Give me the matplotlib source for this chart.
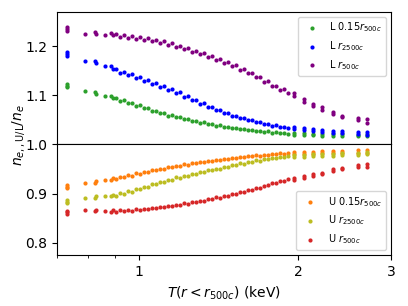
import matplotlib
matplotlib.use("Agg")
import matplotlib.pyplot as plt
from matplotlib.ticker import FixedLocator, FixedFormatter, LogLocator, NullFormatter

# temperature T(r < r500c) in keV, shared by every series
T = [0.731, 0.731, 0.731, 0.792, 0.824, 0.831, 0.864, 0.887, 0.894,
     0.904, 0.920, 0.936, 0.953, 0.969, 0.987, 1.003, 1.022, 1.040, 1.058,
     1.076, 1.095, 1.114, 1.134, 1.154, 1.175, 1.195, 1.216, 1.237, 1.259,
     1.281, 1.303, 1.326, 1.349, 1.373, 1.397, 1.422, 1.447, 1.473, 1.498,
     1.524, 1.551, 1.579, 1.606, 1.634, 1.663, 1.692, 1.722, 1.752, 1.783,
     1.815, 1.847, 1.879, 1.912,
     1.968, 1.968, 2.050, 2.050, 2.135, 2.135, 2.220, 2.220, 2.336, 2.336,
     2.422, 2.422, 2.605, 2.605, 2.701, 2.701]

# lower ratios (L)
L_015 = [1.123, 1.120, 1.117, 1.108, 1.107, 1.103, 1.098, 1.098, 1.094,
         1.095, 1.089, 1.090, 1.084, 1.085, 1.079, 1.080, 1.074, 1.074, 1.068,
         1.069, 1.064, 1.064, 1.059, 1.060, 1.055, 1.056, 1.051, 1.052, 1.048,
         1.048, 1.044, 1.045, 1.041, 1.042, 1.038, 1.039, 1.036, 1.036, 1.033,
         1.034, 1.031, 1.032, 1.029, 1.030, 1.027, 1.028, 1.026, 1.027, 1.024,
         1.025, 1.023, 1.024, 1.022,
         1.024, 1.020, 1.023, 1.019, 1.022, 1.019, 1.022, 1.018, 1.021, 1.018,
         1.021, 1.018, 1.020, 1.017, 1.021, 1.017]
L_2500 = [1.189, 1.185, 1.181, 1.170, 1.170, 1.165, 1.159, 1.160, 1.154,
          1.153, 1.146, 1.148, 1.141, 1.143, 1.136, 1.137, 1.130, 1.132, 1.124,
          1.126, 1.118, 1.119, 1.111, 1.113, 1.104, 1.106, 1.097, 1.098, 1.090,
          1.091, 1.083, 1.084, 1.077, 1.077, 1.070, 1.071, 1.064, 1.065, 1.059,
          1.059, 1.054, 1.054, 1.049, 1.050, 1.045, 1.046, 1.041, 1.042, 1.038,
          1.039, 1.035, 1.036, 1.033,
          1.036, 1.031, 1.034, 1.029, 1.031, 1.027, 1.030, 1.026, 1.027, 1.024,
          1.027, 1.023, 1.025, 1.021, 1.026, 1.020]
L_500 = [1.240, 1.236, 1.232, 1.225, 1.230, 1.226, 1.222, 1.228, 1.222,
         1.225, 1.219, 1.223, 1.217, 1.220, 1.214, 1.218, 1.212, 1.216, 1.210,
         1.213, 1.207, 1.210, 1.203, 1.206, 1.199, 1.201, 1.194, 1.197, 1.189,
         1.191, 1.184, 1.186, 1.178, 1.180, 1.172, 1.174, 1.166, 1.167, 1.159,
         1.161, 1.152, 1.153, 1.145, 1.145, 1.137, 1.137, 1.128, 1.129, 1.119,
         1.120, 1.111, 1.113, 1.104,
         1.104, 1.098, 1.093, 1.087, 1.083, 1.078, 1.076, 1.071, 1.066, 1.062,
         1.059, 1.056, 1.053, 1.050, 1.052, 1.043]

# upper ratios (U)
U_015 = [0.917, 0.914, 0.911, 0.921, 0.922, 0.925, 0.928, 0.927, 0.932,
         0.930, 0.934, 0.933, 0.937, 0.936, 0.941, 0.940, 0.944, 0.944, 0.948,
         0.947, 0.951, 0.950, 0.954, 0.954, 0.957, 0.956, 0.960, 0.959, 0.962,
         0.962, 0.965, 0.964, 0.967, 0.966, 0.969, 0.968, 0.971, 0.970, 0.973,
         0.972, 0.975, 0.974, 0.976, 0.976, 0.978, 0.977, 0.979, 0.979, 0.981,
         0.980, 0.982, 0.981, 0.983,
         0.980, 0.984, 0.981, 0.985, 0.981, 0.985, 0.982, 0.986, 0.983, 0.986,
         0.983, 0.987, 0.983, 0.988, 0.982, 0.988]
U_2500 = [0.886, 0.883, 0.880, 0.890, 0.891, 0.894, 0.895, 0.894, 0.898,
          0.896, 0.901, 0.900, 0.905, 0.904, 0.909, 0.910, 0.914, 0.914, 0.919,
          0.919, 0.924, 0.923, 0.928, 0.928, 0.933, 0.932, 0.936, 0.936, 0.940,
          0.940, 0.944, 0.944, 0.948, 0.947, 0.951, 0.951, 0.955, 0.954, 0.958,
          0.958, 0.962, 0.961, 0.965, 0.964, 0.968, 0.967, 0.970, 0.970, 0.973,
          0.972, 0.975, 0.974, 0.977,
          0.974, 0.978, 0.975, 0.979, 0.976, 0.980, 0.976, 0.980, 0.977, 0.981,
          0.978, 0.982, 0.979, 0.983, 0.980, 0.984]
U_500 = [0.865, 0.862, 0.859, 0.866, 0.864, 0.867, 0.865, 0.863, 0.866,
         0.863, 0.866, 0.864, 0.867, 0.865, 0.868, 0.866, 0.869, 0.868, 0.871,
         0.870, 0.873, 0.872, 0.875, 0.874, 0.877, 0.877, 0.880, 0.879, 0.882,
         0.882, 0.885, 0.885, 0.888, 0.888, 0.892, 0.891, 0.895, 0.895, 0.899,
         0.899, 0.903, 0.903, 0.907, 0.907, 0.912, 0.912, 0.916, 0.917, 0.921,
         0.922, 0.925, 0.925, 0.929,
         0.931, 0.927, 0.936, 0.932, 0.940, 0.936, 0.942, 0.939, 0.950, 0.946,
         0.953, 0.950, 0.959, 0.955, 0.961, 0.955]

lower = [(L_015, "tab:green", r"L $0.15r_{500c}$"),
         (L_2500, "blue", r"L $r_{2500c}$"),
         (L_500, "purple", r"L $r_{500c}$")]
upper = [(U_015, "tab:orange", r"U $0.15r_{500c}$"),
         (U_2500, "tab:olive", r"U $r_{2500c}$"),
         (U_500, "tab:red", r"U $r_{500c}$")]

fig = plt.figure(figsize=(4.08, 3.06), dpi=100)
gs = fig.add_gridspec(2, 1, height_ratios=[0.27, 0.225], hspace=0,
                      left=0.14, right=0.958, top=0.961, bottom=0.167)
ax1 = fig.add_subplot(gs[0])
ax2 = fig.add_subplot(gs[1], sharex=ax1)

for vals, c, lab in lower:
    ax1.scatter(T, vals, s=9, color=c, linewidths=0, label=lab)
for vals, c, lab in upper:
    ax2.scatter(T, vals, s=9, color=c, linewidths=0, label=lab)

ax1.set_xscale("log")
ax1.set_xlim(0.7, 3.0)
ax1.set_ylim(1.0, 1.27)
ax2.set_ylim(0.775, 1.0)
ax1.set_yticks([1.0, 1.1, 1.2])
ax2.set_yticks([0.8, 0.9])

ax2.xaxis.set_major_locator(FixedLocator([1, 2, 3]))
ax2.xaxis.set_major_formatter(FixedFormatter(["1", "2", "3"]))
ax2.xaxis.set_minor_locator(LogLocator(base=10, subs=[0.7, 0.8, 0.9]))
ax2.xaxis.set_minor_formatter(NullFormatter())
ax1.tick_params(axis="x", which="both", bottom=False, labelbottom=False)

ax1.legend(loc="upper right", fontsize=7)
ax2.legend(loc="lower right", fontsize=7)

ax2.set_xlabel(r"$T(r<r_{500c})$ (keV)")
fig.text(0.045, 0.559, r"$n_{e,,\mathrm{U/L}}/n_e$", rotation=90,
         ha="center", va="center", fontsize=10)

fig.savefig("out.png", dpi=100)
